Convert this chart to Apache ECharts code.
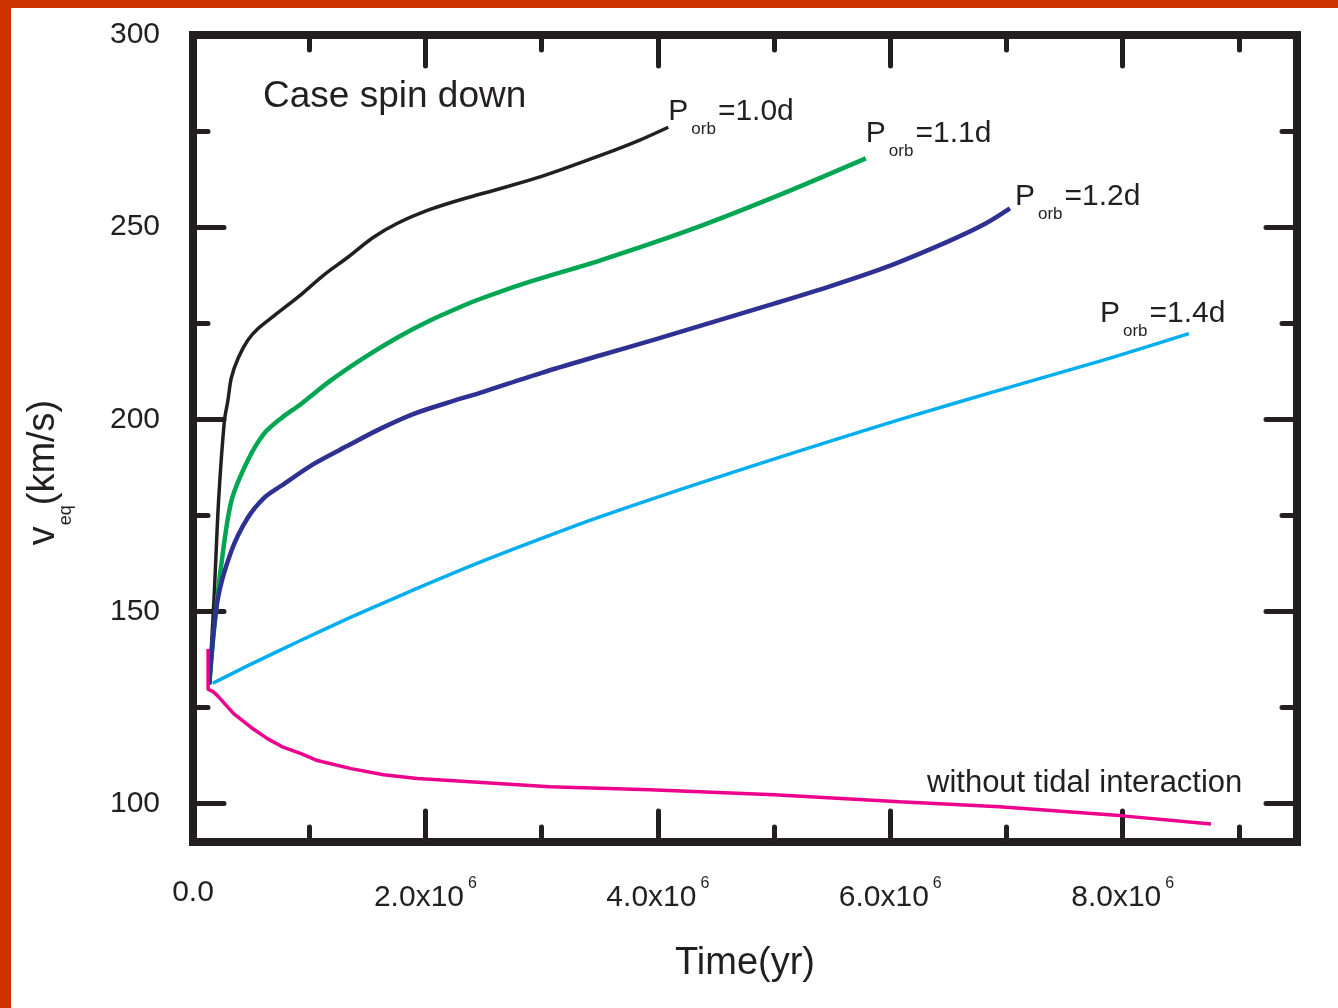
<!DOCTYPE html>
<html>
<head>
<meta charset="utf-8">
<script src="https://cdn.jsdelivr.net/npm/echarts@6/dist/echarts.min.js"></script>
<style>
html,body{margin:0;padding:0;background:#fff;}
#chart{position:absolute;left:0;top:0;width:1338px;height:1008px;}
.bt{position:absolute;left:0;top:0;width:1338px;height:8px;background:#cc3300;}
.bl{position:absolute;left:0;top:0;width:11px;height:1008px;background:#cc3300;}
</style>
</head>
<body>
<div id="chart"></div><div class="bt"></div><div class="bl"></div>
<script>
// ---------- data (time in yr, v_eq in km/s) ----------
const tP10 = [0.14e6,0.18e6,0.22e6,0.27e6,0.30e6,0.33e6,0.39e6,0.47e6,0.56e6,0.70e6,0.90e6,1.12e6,1.33e6,1.55e6,1.76e6,2.04e6,2.33e6,2.64e6,3.00e6,3.50e6,3.84e6,4.09e6];
const vP10 = [131.0,152.7,178.7,199.6,204.8,210.8,216.0,220.5,223.6,227.0,231.7,237.4,242.1,247.3,251.0,254.6,257.4,260.0,263.2,268.6,272.6,276.0];

const tP11 = [0.14e6,0.18e6,0.24e6,0.33e6,0.47e6,0.61e6,0.76e6,0.93e6,1.18e6,1.47e6,1.76e6,2.04e6,2.33e6,2.47e6,2.90e6,3.50e6,4.27e6,5.00e6,5.79e6];
const vP11 = [131.0,144.9,161.3,178.7,189.2,196.2,200.3,204.0,210.0,216.0,221.3,225.7,229.6,231.3,235.8,241.3,249.2,257.8,267.9];

const tP12 = [0.14e6,0.21e6,0.33e6,0.47e6,0.61e6,0.76e6,1.04e6,1.33e6,1.61e6,1.90e6,2.19e6,2.47e6,3.00e6,3.50e6,4.00e6,5.00e6,5.50e6,6.00e6,6.50e6,6.80e6,7.03e6];
const vP12 = [131.0,152.7,165.7,174.3,179.5,182.7,188.4,193.1,197.5,201.4,204.3,206.9,212.1,216.6,221.0,230.1,234.8,240.0,246.3,250.6,254.9];

const tP14 = [0.17e6,0.50e6,0.93e6,1.36e6,1.79e6,2.47e6,3.00e6,3.50e6,4.36e6,5.22e6,6.08e6,6.94e6,7.79e6,8.57e6];
const vP14 = [131.3,136.3,142.5,148.5,154.2,162.8,169.0,174.6,183.4,191.8,199.9,207.6,215.0,222.3];

const tNoTide = [0.13e6,0.13e6,0.17e6,0.21e6,0.35e6,0.50e6,0.64e6,0.78e6,0.93e6,1.07e6,1.36e6,1.64e6,1.93e6,2.21e6,3.07e6,3.93e6,5.00e6,6.08e6,6.94e6,8.00e6,8.76e6];
const vNoTide = [140.2,129.7,129.2,128.1,123.4,119.8,116.9,114.6,113.0,111.2,109.1,107.5,106.5,106.0,104.4,103.6,102.3,100.5,99.2,96.8,94.7];

const porbValues = ['1.0','1.1','1.2','1.4'];
const noTideLabel = 'without tidal interaction';
const titleText = 'Case spin down';

// ---------- ticks & labels ----------
const xMajorTicks = [2e6,4e6,6e6,8e6];
const xMinorTicks = [1e6,3e6,5e6,7e6,9e6];
const xLabelValues = [0,2e6,4e6,6e6,8e6];
const xLabelMantissa = ['0.0','2.0','4.0','6.0','8.0'];
const xLabelExponent = [null,6,6,6,6];
const yMajorTicks = [100,150,200,250];
const yMinorTicks = [125,175,225,275];
const yLabelValues = [100,150,200,250,300];

const INK = '#231f20';
const FONT = "'Liberation Sans', Arial, Helvetica, sans-serif";

function zip(a,b){ return a.map((x,i)=>[x,b[i]]); }

function xLabelFmt(val){
  const i = xLabelValues.indexOf(val);
  if (i < 0) return '';
  if (xLabelExponent[i] == null) return '{z|' + xLabelMantissa[i] + '}';
  return '{m|' + xLabelMantissa[i] + 'x10}{e|' + xLabelExponent[i] + '}';
}

const axisLineCfg = {show:true, onZero:false, lineStyle:{color:INK, width:8, cap:'square'}};
function tickCfg(vals, len){
  return {show:true, inside:true, length:len, customValues:vals, lineStyle:{color:INK, width:5, cap:'round'}};
}

function makeX(position, ticks, len, withLabels){
  const ax = {
    type:'value', position, min:0, max:9.5e6,
    splitLine:{show:false},
    axisLine:axisLineCfg,
    axisTick:tickCfg(ticks, len),
    axisLabel:{show:false}
  };
  if (withLabels){
    ax.axisLabel = {
      show:true, customValues:xLabelValues, margin:39, formatter:xLabelFmt,
      rich:{
        m:{fontSize:30, lineHeight:34, color:INK, fontFamily:FONT},
        z:{fontSize:30, lineHeight:34, color:INK, fontFamily:FONT, padding:[0,0,10,0]},
        e:{fontSize:16, lineHeight:16, color:INK, fontFamily:FONT, padding:[0,0,28,4]}
      }
    };
    ax.name = 'Time(yr)';
    ax.nameLocation = 'middle';
    ax.nameGap = 103;
    ax.nameTextStyle = {fontSize:38, color:INK, fontFamily:FONT};
  }
  return ax;
}

function makeY(position, ticks, len, withLabels){
  const ax = {
    type:'value', position, min:90, max:300,
    splitLine:{show:false},
    axisLine:axisLineCfg,
    axisTick:tickCfg(ticks, len),
    axisLabel:{show:false}
  };
  if (withLabels){
    ax.axisLabel = {show:true, customValues:yLabelValues, margin:33, fontSize:30, color:INK, fontFamily:FONT};
    ax.name = '{a|v}{s|eq}{a|(km/s)}';
    ax.nameLocation = 'middle';
    ax.nameGap = 118;
    ax.nameTextStyle = {
      color:INK, fontFamily:FONT, fontSize:38, padding:[0,68,0,0],
      rich:{
        a:{fontSize:38, color:INK, fontFamily:FONT},
        s:{fontSize:18, color:INK, fontFamily:FONT, padding:[44,0,0,1]}
      }
    };
  }
  return ax;
}

const porbRich = {
  p:{fontSize:30, color:INK, fontFamily:FONT},
  s:{fontSize:17, color:INK, fontFamily:FONT, padding:[35,2,0,3]}
};
function porbLabel(val, offset){
  return {
    show:true, distance:5, offset,
    formatter:'{p|P}{s|orb}{p|=' + val + 'd}',
    rich:porbRich
  };
}

function lineSeries(name, t, v, color, width, endLabel, smooth){
  return {
    name, type:'line', xAxisIndex:0, yAxisIndex:0,
    data:zip(t, v), showSymbol:false, symbol:'none',
    smooth:smooth,
    lineStyle:{color, width},
    itemStyle:{color},
    endLabel, z:3
  };
}

const chart = echarts.init(document.getElementById('chart'), null, {renderer:'canvas'});
chart.setOption({
  animation:false,
  backgroundColor:'#ffffff',
  textStyle:{fontFamily:FONT},
  title:{
    text:titleText, left:263, top:78, padding:0,
    textStyle:{fontSize:37, fontWeight:'normal', color:INK, fontFamily:FONT}
  },
  grid:{left:193, right:41, top:35, bottom:166, containLabel:false},
  xAxis:[
    makeX('bottom', xMajorTicks, 31, true),
    makeX('bottom', xMinorTicks, 15, false),
    makeX('top', xMajorTicks, 31, false),
    makeX('top', xMinorTicks, 15, false)
  ],
  yAxis:[
    makeY('left', yMajorTicks, 31, true),
    makeY('left', yMinorTicks, 15, false),
    makeY('right', yMajorTicks, 31, false),
    makeY('right', yMinorTicks, 15, false)
  ],
  series:[
    lineSeries('P_orb=1.0d', tP10, vP10, '#231f20', 3.5, porbLabel(porbValues[0], [-5,-15]), 0.3),
    lineSeries('P_orb=1.1d', tP11, vP11, '#00a651', 4.5, porbLabel(porbValues[1], [-5,-25]), 0.3),
    lineSeries('P_orb=1.2d', tP12, vP12, '#2e3192', 4.5, porbLabel(porbValues[2], [0,-12]), 0.3),
    lineSeries('P_orb=1.4d', tP14, vP14, '#00aeef', 3.5, porbLabel(porbValues[3], [-94,-20]), 0.3),
    lineSeries('no tide', tNoTide, vNoTide, '#ec008c', 3.5, {
      show:true, distance:5, offset:[-289,-40], formatter:noTideLabel,
      fontSize:31, color:INK, fontFamily:FONT
    }, false)
  ]
});
</script>
</body>
</html>
